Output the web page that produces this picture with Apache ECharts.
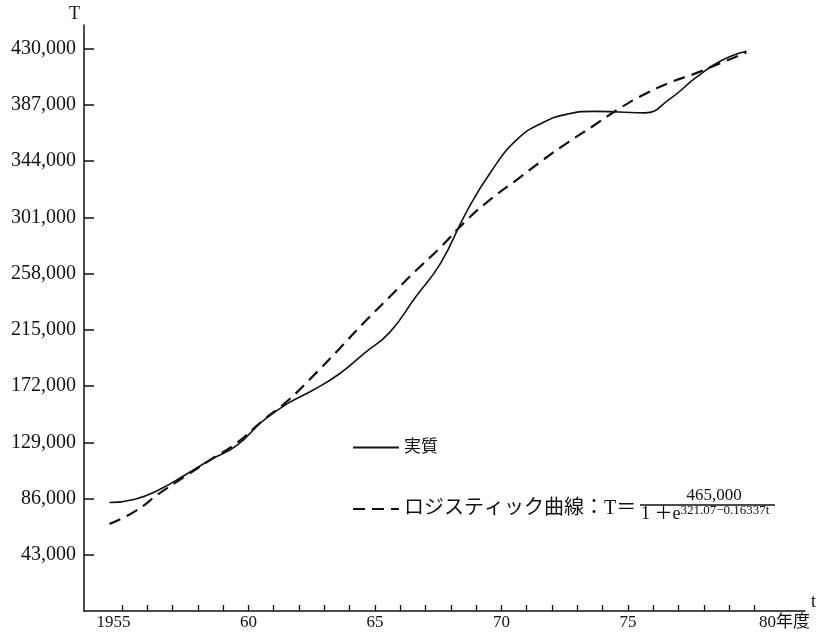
<!DOCTYPE html>
<html>
<head>
<meta charset="utf-8">
<script src="https://cdn.jsdelivr.net/npm/echarts@6/dist/echarts.min.js"></script>
<style>
html,body{margin:0;padding:0;background:#fff;}
#chart{width:822px;height:633px;}
</style>
</head>
<body>
<div id="chart"></div>
<script>
// ---- data ----
const years = [1955,1956,1957,1958,1959,1960,1961,1962,1963,1964,1965,1966,1967,1968,1969,1970,1971,1972,1973,1974,1975,1976,1977,1978,1979,1980];
const actualName = '実質';
const actual = [82900,85500,93200,104400,116000,126600,145000,158700,169000,181000,197000,213000,239700,266000,304600,336600,360500,373300,380000,382000,381500,380800,391500,407500,420700,428000];
const logisticName = 'ロジスティック曲線';
const logistic = [66600,76200,90500,103300,116100,128500,145300,160800,179800,200000,220700,240200,259700,278200,298400,315400,329800,344600,358300,371000,384000,395000,404000,411000,419000,427000];
const yTickValues = [43000,86000,129000,172000,215000,258000,301000,344000,387000,430000];
const xTickValues = [1955,1956,1957,1958,1959,1960,1961,1962,1963,1964,1965,1966,1967,1968,1969,1970,1971,1972,1973,1974,1975,1976,1977,1978,1979,1980];
const xLabelValues = [1955,1960,1965,1970,1975,1980];
const xLabelTexts = ['1955','60','65','70','75','80年度'];
const formulaNumerator = '465,000';
const formulaDenomBase = '1 ＋e';
const formulaExponent = '321.07−0.16337t';
// ---- chart ----
const SERIF = '"Liberation Serif","DejaVu Serif","Noto Sans CJK JP",serif';
const INK = '#111';
const chart = echarts.init(document.getElementById('chart'));
const pair = (vals) => years.map((y, i) => [y, vals[i]]);
chart.setOption({
  backgroundColor: '#fff',
  animation: false,
  grid: { left: 84, right: 17, top: 25, bottom: 22 },
  xAxis: [
    {
      type: 'value', min: 1953.5, max: 1982.0,
      name: 't', nameLocation: 'end', nameGap: 6,
      nameTextStyle: { fontFamily: SERIF, fontSize: 18, color: INK, verticalAlign: 'bottom', lineHeight: 18 },
      axisLine: { show: true, onZero: false, lineStyle: { color: INK, width: 1.5 } },
      axisTick: { show: true, inside: true, length: 6, customValues: xTickValues, lineStyle: { color: INK, width: 1.3 } },
      axisLabel: {
        show: true, margin: 3, customValues: xLabelValues,
        fontFamily: SERIF, fontSize: 17, color: INK,
        formatter: function (v) {
          const i = xLabelValues.indexOf(Math.round(v));
          const t = i >= 0 ? xLabelTexts[i] : '';
          if (i === 0) return '{a|' + t + '}';
          if (i === xLabelValues.length - 1) return '{b|' + t + '}';
          return t;
        },
        rich: {
          a: { fontFamily: SERIF, fontSize: 17, color: INK, padding: [0,17,0,0] },
          b: { fontFamily: SERIF, fontSize: 17, color: INK, padding: [0,0,0,60] }
        }
      },
      splitLine: { show: false }
    },
    {
      type: 'value', min: 1954.0, max: 1982.3, show: false,
      splitLine: { show: false }
    }
  ],
  yAxis: {
    type: 'value', min: 0, max: 448000,
    name: 'T', nameLocation: 'end', nameGap: 2,
    nameTextStyle: { fontFamily: SERIF, fontSize: 18, color: INK, align: 'right', padding: [0,4,0,0] },
    axisLine: { show: true, onZero: false, lineStyle: { color: INK, width: 1.5 } },
    axisTick: { show: true, inside: true, length: 10, customValues: yTickValues, lineStyle: { color: INK, width: 1.5 } },
    axisLabel: {
      show: true, margin: 8, customValues: yTickValues,
      fontFamily: SERIF, fontSize: 20, color: INK,
      formatter: function (v) { return Number(v).toLocaleString('en-US'); }
    },
    splitLine: { show: false }
  },
  legend: {
    orient: 'vertical', left: 352, top: 439, padding: 0,
    itemWidth: 46, itemHeight: 14, itemGap: 43,
    itemStyle: { opacity: 0 },
    data: [actualName, logisticName],
    formatter: function (name) {
      return name === actualName ? '{s|' + name + '}' : '{d|' + name + '：T＝}';
    },
    textStyle: {
      color: INK,
      rich: {
        s: { fontFamily: SERIF, fontSize: 17, color: INK },
        d: { fontFamily: SERIF, fontSize: 20, color: INK }
      }
    }
  },
  graphic: [
    { type: 'text', x: 714, y: 496,
      style: { text: formulaNumerator, font: '17px ' + SERIF, fill: INK, align: 'center', verticalAlign: 'middle' } },
    { type: 'line', shape: { x1: 640, y1: 505, x2: 775, y2: 505 },
      style: { stroke: INK, lineWidth: 1.4 } },
    { type: 'text', x: 641, y: 514,
      style: {
        text: '{b|' + formulaDenomBase + '}{s|' + formulaExponent + '}',
        verticalAlign: 'middle', align: 'left',
        rich: {
          b: { fontFamily: SERIF, fontSize: 18, lineHeight: 20, fill: INK, color: INK },
          s: { fontFamily: SERIF, fontSize: 13, lineHeight: 20, verticalAlign: 'top', fill: INK, color: INK }
        }
      } }
  ],
  series: [
    {
      name: actualName, type: 'line', xAxisIndex: 1, data: pair(actual),
      smooth: true, symbol: 'none', showSymbol: false,
      lineStyle: { color: INK, width: 1.6, type: 'solid' },
      itemStyle: { color: INK }
    },
    {
      name: logisticName, type: 'line', xAxisIndex: 1, data: pair(logistic),
      smooth: true, symbol: 'none', showSymbol: false,
      lineStyle: { color: INK, width: 2.2, type: [12, 7] },
      itemStyle: { color: INK }
    }
  ]
});
</script>
</body>
</html>
